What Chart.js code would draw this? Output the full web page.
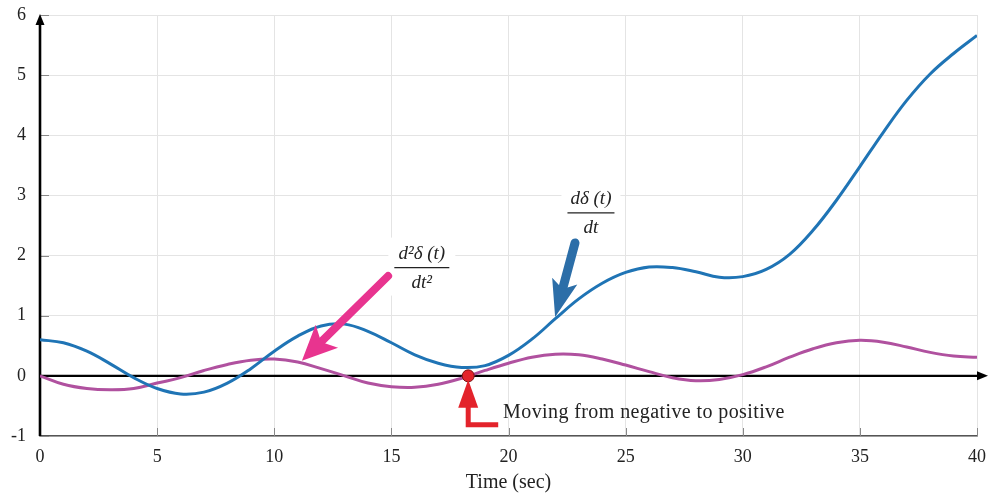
<!DOCTYPE html>
<html>
<head>
<meta charset="utf-8">
<script src="https://cdn.jsdelivr.net/npm/chart.js@4.4.0/dist/chart.umd.min.js"></script>
<style>
  html, body { margin: 0; padding: 0; background: #fff; }
</style>
</head>
<body>
<canvas id="chart" width="989" height="498"></canvas>
<script>
// sampled every second
const timeSec = [0,1,2,3,4,5,6,7,8,9,10,11,12,13,14,15,16,17,18,19,20,
                 21,22,23,24,25,26,27,28,29,30,31,32,33,34,35,36,37,38,39,40];
const firstDeriv = [0.60,0.55,0.41,0.20,-0.03,-0.21,-0.30,-0.27,-0.12,0.12,0.41,
                    0.66,0.83,0.86,0.74,0.55,0.35,0.21,0.14,0.17,0.34,
                    0.61,0.95,1.28,1.54,1.72,1.81,1.80,1.73,1.64,1.65,
                    1.77,2.02,2.42,2.92,3.48,4.05,4.58,5.02,5.36,5.66];
const secondDeriv = [0.00,-0.14,-0.21,-0.23,-0.21,-0.12,-0.03,0.09,0.19,0.26,0.28,
                     0.23,0.12,0.00,-0.12,-0.18,-0.19,-0.14,-0.04,0.09,0.21,
                     0.31,0.36,0.35,0.28,0.18,0.07,-0.03,-0.08,-0.06,0.02,
                     0.15,0.31,0.45,0.55,0.59,0.56,0.48,0.39,0.33,0.31];
const xTicks = [0,5,10,15,20,25,30,35,40];
const yTicks = [-1,0,1,2,3,4,5,6];
const signChangeT = 18.28;

const SERIF = '"Liberation Serif", "DejaVu Serif", serif';
const BLUE = '#1f74b5';
const MAGENTA = '#b0519f';

function toPoints(ys) {
  return ys.map((y, i) => ({ x: timeSec[i], y: y }));
}

function drawArrow(ctx, x0, y0, x1, y1, shaftW, headLen, headW, color) {
  const dx = x1 - x0, dy = y1 - y0;
  const len = Math.hypot(dx, dy);
  const ux = dx / len, uy = dy / len;
  const nx = -uy, ny = ux;
  const bx = x1 - ux * headLen, by = y1 - uy * headLen;
  ctx.save();
  ctx.strokeStyle = color;
  ctx.fillStyle = color;
  ctx.lineWidth = shaftW;
  ctx.lineCap = 'round';
  ctx.beginPath();
  ctx.moveTo(x0, y0);
  ctx.lineTo(bx + ux * 4, by + uy * 4);
  ctx.stroke();
  ctx.beginPath();
  ctx.moveTo(x1, y1);
  ctx.lineTo(bx + nx * headW / 2 - ux * 3, by + ny * headW / 2 - uy * 3);
  ctx.lineTo(bx + ux * 5, by + uy * 5);
  ctx.lineTo(bx - nx * headW / 2 - ux * 3, by - ny * headW / 2 - uy * 3);
  ctx.closePath();
  ctx.fill();
  ctx.restore();
}

function drawFraction(ctx, cx, barY, top, bottom, barW) {
  ctx.save();
  ctx.fillStyle = '#fff';
  ctx.fillRect(cx - barW / 2 - 6, barY - 30, barW + 12, 58);
  ctx.fillStyle = '#222';
  ctx.font = 'italic 19px ' + SERIF;
  ctx.textAlign = 'center';
  ctx.textBaseline = 'middle';
  ctx.fillText(top, cx, barY - 14);
  ctx.fillText(bottom, cx, barY + 15);
  ctx.strokeStyle = '#222';
  ctx.lineWidth = 1.2;
  ctx.beginPath();
  ctx.moveTo(cx - barW / 2, barY);
  ctx.lineTo(cx + barW / 2, barY);
  ctx.stroke();
  ctx.restore();
}

// arrowed axes, inner tick marks
const axesPlugin = {
  id: 'axesPlugin',
  beforeDatasetsDraw(chart) {
    const { ctx, chartArea: a, scales: { x, y } } = chart;
    ctx.save();
    ctx.strokeStyle = '#888';
    ctx.lineWidth = 1;
    xTicks.forEach(t => {
      const px = Math.round(x.getPixelForValue(t)) + 0.5;
      ctx.beginPath();
      ctx.moveTo(px, a.bottom);
      ctx.lineTo(px, a.bottom - 8);
      ctx.stroke();
    });
    yTicks.forEach(v => {
      const py = Math.round(y.getPixelForValue(v)) + 0.5;
      ctx.beginPath();
      ctx.moveTo(a.left, py);
      ctx.lineTo(a.left + 9, py);
      ctx.stroke();
    });

    const x0 = x.getPixelForValue(0);
    const y0 = y.getPixelForValue(0);
    ctx.strokeStyle = '#000';
    ctx.fillStyle = '#000';
    // vertical axis with arrow
    ctx.lineWidth = 2.6;
    ctx.beginPath();
    ctx.moveTo(x0, a.bottom);
    ctx.lineTo(x0, a.top + 4);
    ctx.stroke();
    ctx.beginPath();
    ctx.moveTo(x0, a.top - 1);
    ctx.lineTo(x0 - 4.5, a.top + 10);
    ctx.lineTo(x0 + 4.5, a.top + 10);
    ctx.closePath();
    ctx.fill();
    // zero line with arrow
    ctx.lineWidth = 2.4;
    ctx.beginPath();
    ctx.moveTo(x0, y0);
    ctx.lineTo(a.right + 4, y0);
    ctx.stroke();
    ctx.beginPath();
    ctx.moveTo(a.right + 11, y0);
    ctx.lineTo(a.right, y0 - 4.5);
    ctx.lineTo(a.right, y0 + 4.5);
    ctx.closePath();
    ctx.fill();
    ctx.restore();
  },
  afterDatasetsDraw(chart) {
    const { ctx, scales: { x, y } } = chart;
    const px = v => x.getPixelForValue(v);
    const py = v => y.getPixelForValue(v);

    drawFraction(ctx, px(16.3), py(1.8), 'd\u00b2\u03b4 (t)', 'dt\u00b2', 55);
    drawFraction(ctx, px(23.52), py(2.71), 'd\u03b4 (t)', 'dt', 47);

    drawArrow(ctx, px(14.86), py(1.66), px(11.18), py(0.25), 8, 32, 32, '#e8348f');
    drawArrow(ctx, px(22.84), py(2.21), px(21.99), py(0.98), 9, 34, 26, '#2c6ea8');

    // red marker arrow below the sign change
    const rx = px(signChangeT), ry = py(0);
    ctx.save();
    ctx.fillStyle = '#e3232b';
    ctx.strokeStyle = '#e3232b';
    ctx.beginPath();
    ctx.moveTo(rx, ry + 4);
    ctx.lineTo(rx - 10, ry + 32);
    ctx.lineTo(rx + 10, ry + 32);
    ctx.closePath();
    ctx.fill();
    ctx.lineWidth = 5;
    ctx.lineCap = 'butt';
    ctx.beginPath();
    ctx.moveTo(rx, ry + 30);
    ctx.lineTo(rx, ry + 49);
    ctx.lineTo(rx + 30, ry + 49);
    ctx.stroke();

    ctx.fillStyle = '#222';
    ctx.font = '20px ' + SERIF;
    ctx.letterSpacing = '0.4px';
    ctx.textAlign = 'left';
    ctx.textBaseline = 'middle';
    ctx.fillText('Moving from negative to positive', px(19.77), py(-0.615));
    ctx.restore();
  }
};

const tickFont = { family: SERIF, size: 18 };

new Chart(document.getElementById('chart'), {
  type: 'line',
  data: {
    datasets: [
      {
        data: [{ x: signChangeT, y: 0 }],
        showLine: false,
        pointRadius: 6,
        backgroundColor: '#e3232b',
        borderColor: '#7a1212',
        borderWidth: 1,
        order: 0
      },
      {
        label: 'd\u03b4(t)/dt',
        data: toPoints(firstDeriv),
        borderColor: BLUE,
        borderWidth: 3,
        pointRadius: 0,
        tension: 0.4,
        order: 1
      },
      {
        label: 'd\u00b2\u03b4(t)/dt\u00b2',
        data: toPoints(secondDeriv),
        borderColor: MAGENTA,
        borderWidth: 3,
        pointRadius: 0,
        tension: 0.4,
        order: 2
      }
    ]
  },
  options: {
    responsive: false,
    animation: false,
    layout: { padding: { top: 15, right: 12, left: 0, bottom: 0 } },
    plugins: { legend: { display: false }, tooltip: { enabled: false } },
    scales: {
      x: {
        type: 'linear',
        min: 0,
        max: 40,
        afterBuildTicks: s => { s.ticks = xTicks.map(v => ({ value: v })); },
        afterFit: s => { s.height = 62; s.paddingLeft = 0; s.paddingRight = 0; },
        ticks: { font: tickFont, color: '#222', padding: 10 },
        grid: { color: '#e4e4e4', drawTicks: false },
        border: { display: true, color: '#555', width: 1.5 },
        title: {
          display: true,
          text: 'Time (sec)',
          font: { family: SERIF, size: 20 },
          color: '#222',
          padding: { top: 0, bottom: 3 }
        }
      },
      y: {
        type: 'linear',
        min: -1,
        max: 6,
        afterBuildTicks: s => { s.ticks = yTicks.map(v => ({ value: v })); },
        afterFit: s => { s.width = 40; s.paddingTop = 0; s.paddingBottom = 0; },
        ticks: { font: tickFont, color: '#222', padding: 14 },
        grid: { color: '#e4e4e4', drawTicks: false },
        border: { display: false }
      }
    }
  },
  plugins: [axesPlugin]
});
</script>
</body>
</html>
